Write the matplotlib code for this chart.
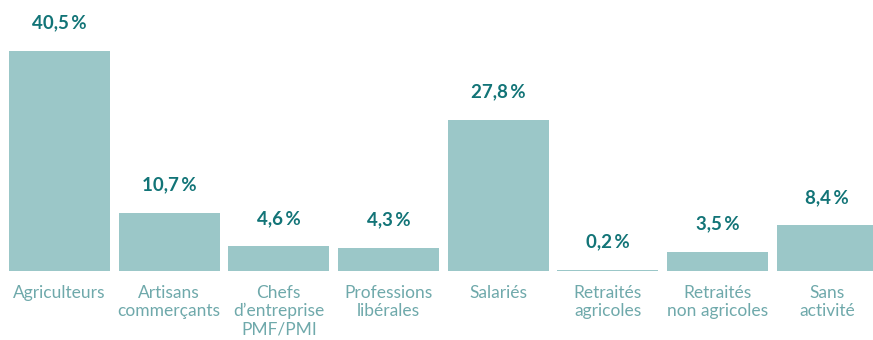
import matplotlib
matplotlib.use("Agg")
import matplotlib.pyplot as plt

# categories and shares (%)
categories = ["Agriculteurs", "Artisans\ncommerçants", "Chefs\nd\u2019entreprise\nPMF/PMI",
              "Professions\nlibérales", "Salariés", "Retraités\nagricoles",
              "Retraités\nnon agricoles", "Sans\nactivité"]
values = [40.5, 10.7, 4.6, 4.3, 27.8, 0.2, 3.5, 8.4]
value_labels = ["40,5\u2009%", "10,7\u2009%", "4,6\u2009%", "4,3\u2009%",
                "27,8\u2009%", "0,2\u2009%", "3,5\u2009%", "8,4\u2009%"]

bar_color = "#9bc7c8"
value_color = "#127477"
cat_color = "#6fa9ab"

fig = plt.figure(figsize=(8.73, 3.4), dpi=100)
ax = fig.add_axes([0.0053, 0.203, 1.005, 0.719])

x = range(len(values))
ax.bar(x, values, width=0.92, color=bar_color)
ax.set_xlim(-0.5, len(values) - 0.5)
ax.set_ylim(0, 45)
ax.axis("off")

for i, v in enumerate(values):
    ax.annotate(value_labels[i], (i, v), xytext=(0, 16), textcoords="offset points",
                ha="center", va="baseline", fontsize=13.5, fontweight="bold",
                color=value_color, family=["Lato", "DejaVu Sans"])
    ax.annotate(categories[i], (i, 0), xytext=(0, -10), textcoords="offset points",
                ha="center", va="top", fontsize=12.5, fontweight="normal",
                color=cat_color, family=["Lato", "DejaVu Sans"], linespacing=1.15)

fig.savefig("out.png", dpi=100)
